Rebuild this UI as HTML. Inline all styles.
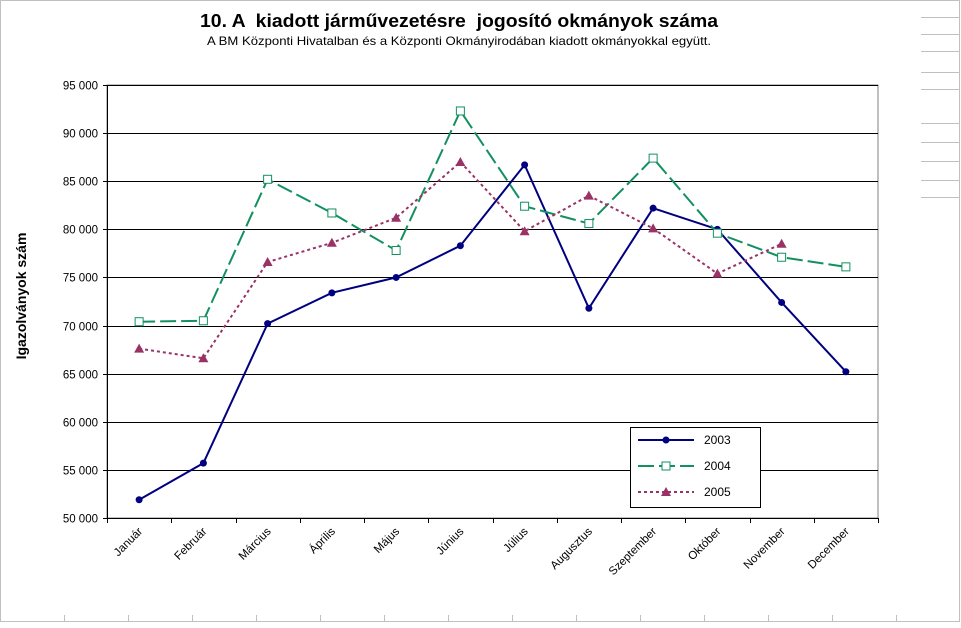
<!DOCTYPE html>
<html><head><meta charset="utf-8"><style>
body{margin:0;background:#fff;font-family:"Liberation Sans",sans-serif}
svg text{font-family:"Liberation Sans",sans-serif;white-space:pre}
</style></head><body>
<svg id="c" width="961" height="623" viewBox="0 0 961 623">
<rect x="0.5" y="0.5" width="959" height="621" fill="#fff" stroke="#c0c0c0"/>
<text x="200" y="27" font-size="18" font-weight="bold" textLength="518" lengthAdjust="spacingAndGlyphs">10. A  kiadott járművezetésre  jogosító okmányok száma</text>
<text x="207" y="45" font-size="12" textLength="504" lengthAdjust="spacingAndGlyphs">A BM Központi Hivatalban és a Központi Okmányirodában kiadott okmányokkal együtt.</text>
<text transform="translate(26,296) rotate(-90)" font-size="14" font-weight="bold" text-anchor="middle">Igazolványok szám</text>
<g id="grid"></g><g id="axes"></g><g id="series"></g>
<g>
<rect x="630.5" y="427.5" width="130" height="80" fill="#fff" stroke="#000"/>
</g>
<g id="legend"></g>
<g id="deco"></g>
</svg>
<script>
const months=["Január","Február","Március","Április","Május","Június","Július","Augusztus","Szeptember","Október","November","December"];
const s2003=[51900,55700,70200,73400,75000,78300,86700,71800,82200,80000,72400,65200];
const s2004=[70400,70500,85200,81700,77800,92300,82400,80600,87400,79600,77100,76100];
const s2005=[67600,66600,76600,78600,81200,87000,79800,83500,80100,75400,78500];
const yTicks=[50000,55000,60000,65000,70000,75000,80000,85000,90000,95000];
const NS="http://www.w3.org/2000/svg";
const L=107,R=878,T=85,B=518,yMin=50000,yMax=95000;
const step=(R-L)/months.length;
const xs=i=>L+step*(i+0.5);
const ys=v=>B-(v-yMin)/(yMax-yMin)*(B-T);
function el(tag,attrs,parent){const e=document.createElementNS(NS,tag);for(const k in attrs)e.setAttribute(k,attrs[k]);parent.appendChild(e);return e;}
const fmt=v=>String(v).replace(/(\d)(?=(\d{3})+$)/,"$1 ");
const grid=document.getElementById('grid'),axes=document.getElementById('axes'),ser=document.getElementById('series');
el('rect',{x:L,y:T,width:R-L,height:B-T,fill:'#fff',stroke:'#808080'},grid);
yTicks.forEach(v=>{const y=Math.round(ys(v))+0.5;
 if(v>yMin){const g=el('line',{x1:L,x2:R,y1:y,y2:y,stroke:'#000'},grid);
 
 }
 el('line',{x1:L-4,x2:L,y1:y,y2:y,stroke:'#000'},axes);
 const t=el('text',{x:L-9,y:y+4,'font-size':11.5,'text-anchor':'end'},axes);t.textContent=fmt(v);
 
 });
el('line',{x1:L+0.5,x2:L+0.5,y1:T,y2:B+0.5,stroke:'#000'},axes);
el('line',{x1:L,x2:R,y1:B+0.5,y2:B+0.5,stroke:'#000'},axes);
for(let i=0;i<=months.length;i++){const x=Math.round(L+step*i)+0.5;el('line',{x1:x,x2:x,y1:B,y2:B+5,stroke:'#000'},axes);}
months.forEach((m,i)=>{const x=xs(i)+4,y=B+14;
 const t=el('text',{x:x,y:y,'font-size':11.5,'text-anchor':'end',transform:`rotate(-45 ${x} ${y})`},axes);t.textContent=m;
 
 });
function marker(type,x,y,color,p){
 if(type==='circle')return el('circle',{cx:x,cy:y,r:3.5,fill:color},p);
 if(type==='square')return el('rect',{x:x-4,y:y-4,width:8,height:8,fill:'#fff',stroke:color,'stroke-width':1},p);
 return el('polygon',{points:`${x},${y-5} ${x+5},${y+4} ${x-5},${y+4}`,fill:color},p);}
const defs=[["2003",s2003,"#000080","","circle",2],["2004",s2004,"#129060","16,5","square",2],["2005",s2005,"#993366","3,3","tri",2]];
defs.forEach(([name,d,c,dash,mk,w],k)=>{
 const g=el('g',{},ser);
 
 
 el('polyline',{points:d.map((v,i)=>xs(i)+','+ys(v)).join(' '),fill:'none',stroke:c,'stroke-width':w,'stroke-dasharray':dash},g);
 d.forEach((v,i)=>{const m=marker(mk,xs(i),ys(v),c,g);
  
  });
 const lg=el('g',{},document.getElementById('legend'));
 
 
 const ly=440+k*26;
 el('line',{x1:638,x2:694,y1:ly,y2:ly,stroke:c,'stroke-width':w,'stroke-dasharray':dash},lg);
 marker(mk,666,ly,c,lg);
 const t=el('text',{x:704,y:ly+4,'font-size':12},lg);t.textContent=name;});
const deco=document.getElementById('deco');
[17,34,51,72,89,123,142,161,180,197].forEach(y=>el('line',{x1:921,x2:960,y1:y+0.5,y2:y+0.5,stroke:'#c0c0c0'},deco));
for(let x=64;x<960;x+=64)el('line',{x1:x+0.5,x2:x+0.5,y1:615,y2:622,stroke:'#c0c0c0'},deco);
</script>
</body></html>
